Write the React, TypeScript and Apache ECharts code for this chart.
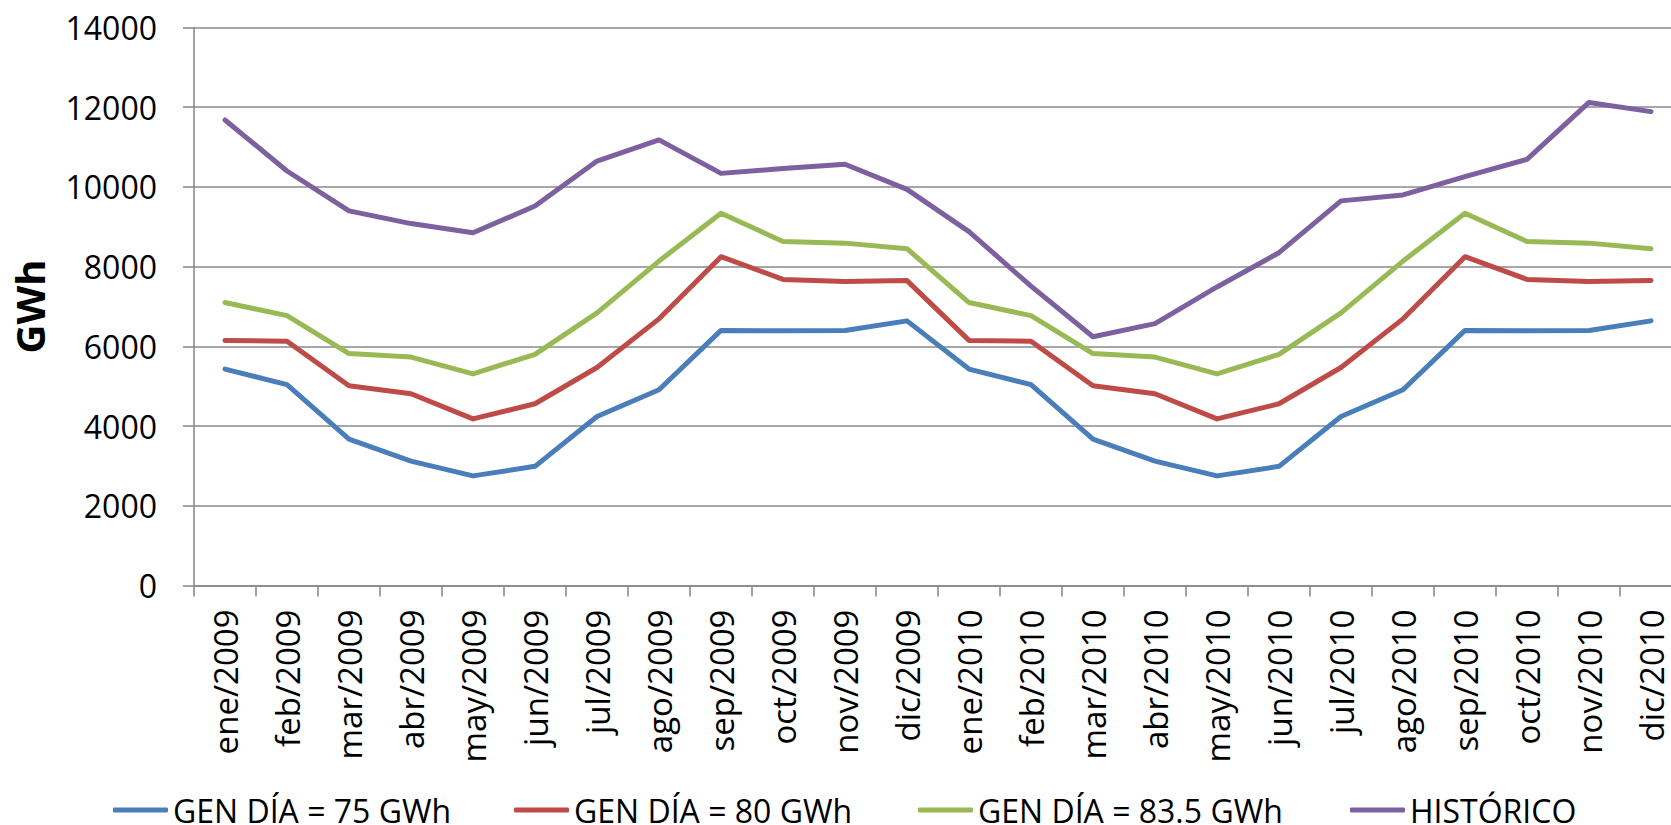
import React, { useEffect, useRef } from "react";
import * as echarts from "echarts";

const categories = [
  "ene/2009", "feb/2009", "mar/2009", "abr/2009", "may/2009", "jun/2009",
  "jul/2009", "ago/2009", "sep/2009", "oct/2009", "nov/2009", "dic/2009",
  "ene/2010", "feb/2010", "mar/2010", "abr/2010", "may/2010", "jun/2010",
  "jul/2010", "ago/2010", "sep/2010", "oct/2010", "nov/2010", "dic/2010",
];

const gen75 = [
  5430, 5040, 3670, 3120, 2750, 2990, 4240, 4910, 6400, 6390, 6400, 6640,
  5430, 5040, 3670, 3120, 2750, 2990, 4240, 4910, 6400, 6390, 6400, 6640,
];
const gen80 = [
  6150, 6130, 5010, 4810, 4180, 4560, 5470, 6690, 8250, 7680, 7630, 7650,
  6150, 6130, 5010, 4810, 4180, 4560, 5470, 6690, 8250, 7680, 7630, 7650,
];
const gen835 = [
  7100, 6770, 5820, 5730, 5310, 5800, 6840, 8140, 9340, 8630, 8590, 8450,
  7100, 6770, 5820, 5730, 5310, 5800, 6840, 8140, 9340, 8630, 8590, 8450,
];
const historico = [
  11680, 10400, 9400, 9080, 8850, 9520, 10650, 11180, 10340, 10460, 10570, 9940,
  8880, 7510, 6240, 6570, 7490, 8350, 9650, 9800, 10260, 10690, 12120, 11890,
];

const seriesNames = ["GEN DÍA = 75 GWh", "GEN DÍA = 80 GWh", "GEN DÍA = 83.5 GWh", "HISTÓRICO"];
const seriesColors = ["#4A7EBB", "#BE4B48", "#98B954", "#7D60A0"];
const legendLefts = [108, 509, 913, 1345];
const yAxisName = "GWh";

export default function App() {
  const ref = useRef<HTMLDivElement>(null);
  useEffect(() => {
    if (!ref.current) return;
    const chart = echarts.init(ref.current, undefined, { renderer: "svg" });
    const font = "'Open Sans', sans-serif";
    const datas = [gen75, gen80, gen835, historico];
    chart.setOption({
      animation: false,
      backgroundColor: "#ffffff",
      textStyle: { fontFamily: font },
      grid: {
        left: 194,
        right: -11,
        top: 27.5,
        bottom: 239.5,
        containLabel: false,
        outerBoundsMode: "none",
      },
      legend: seriesNames.map((name, i) => ({
        left: legendLefts[i],
        top: 789,
        icon: "roundRect",
        itemWidth: 55,
        itemHeight: 5,
        data: [name],
        textStyle: { fontFamily: font, fontSize: 32, lineHeight: 24, color: "#000", padding: [0, 0, 0, 0] },
      })),
      xAxis: {
        type: "category",
        data: categories,
        boundaryGap: true,
        axisLine: { lineStyle: { color: "#868686", width: 1.5 } },
        axisTick: { show: true, length: 11, inside: false, lineStyle: { color: "#868686", width: 1.5 } },
        axisLabel: {
          rotate: 90,
          interval: 0,
          margin: 24,
          fontFamily: font,
          fontSize: 33,
          lineHeight: 30,
          color: "#000",
        },
        splitLine: { show: false },
      },
      yAxis: {
        type: "value",
        min: 0,
        max: 14000,
        interval: 2000,
        name: yAxisName,
        nameLocation: "middle",
        nameGap: 145,
        nameRotate: 90,
        nameTextStyle: { fontFamily: font, fontSize: 40, fontWeight: "bold", color: "#000" },
        axisLine: { show: true, lineStyle: { color: "#868686", width: 1.5 } },
        axisTick: { show: true, length: 11, lineStyle: { color: "#868686", width: 1.5 } },
        axisLabel: {
          margin: 37,
          fontFamily: font,
          fontSize: 32,
          color: "#000",
          formatter: (v: number) => String(v),
        },
        splitLine: { show: true, lineStyle: { color: "#8a8a8a", width: 1.5 } },
      },
      series: datas.map((d, i) => ({
        name: seriesNames[i],
        type: "line",
        data: d,
        symbol: "none",
        showSymbol: false,
        color: seriesColors[i],
        itemStyle: { color: seriesColors[i] },
        lineStyle: { width: 5, color: seriesColors[i], cap: "round", join: "round" },
      })),
    });
    return () => chart.dispose();
  }, []);
  return (
    <div
      ref={ref}
      style={{ position: "absolute", left: 0, top: 0, width: 1671, height: 825, overflow: "hidden" }}
    />
  );
}
